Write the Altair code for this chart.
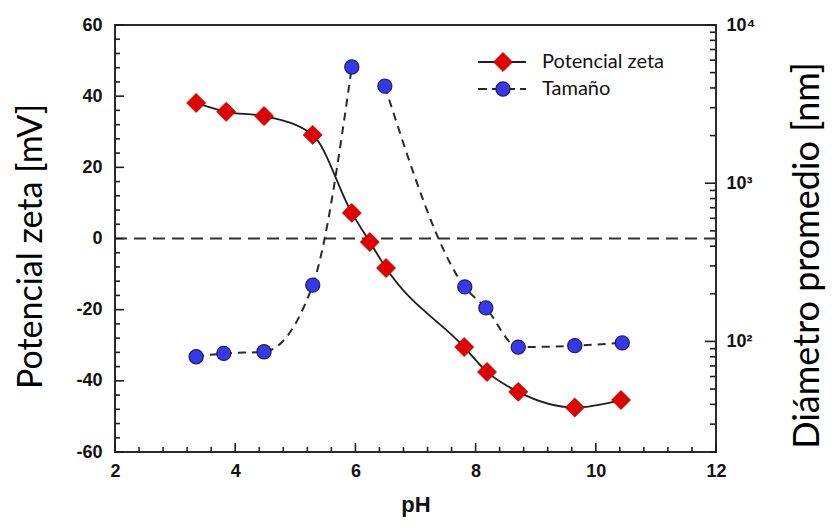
import altair as alt
import pandas as pd

# ---------------- data ----------------
ph_zeta = [3.35, 3.85, 4.48, 5.29, 5.94, 6.24, 6.51, 7.81, 8.19, 8.71, 9.65, 10.42]
zeta_mv = [38.1, 35.6, 34.4, 29.1, 7.2, -1.0, -8.3, -30.5, -37.5, -43.1, -47.5, -45.4]

ph_size = [3.35, 3.81, 4.48, 5.29, 5.94, 6.49, 7.82, 8.17, 8.71, 9.65, 10.44]
size_nm = [80, 84, 86, 227, 5430, 4110, 221, 163, 92, 94, 98]
size_branch = ["a", "a", "a", "a", "a", "b", "b", "b", "b", "b", "b"]

legend_labels = ["Potencial zeta", "Tamaño"]

x_major = [2, 4, 6, 8, 10, 12]
x_minor = [2.4, 2.8, 3.2, 3.6, 4.4, 4.8, 5.2, 5.6, 6.4, 6.8, 7.2, 7.6,
           8.4, 8.8, 9.2, 9.6, 10.4, 10.8, 11.2, 11.6]
y_left_major = [-60, -40, -20, 0, 20, 40, 60]
y_left_minor = [v for v in range(-56, 60, 4) if v % 20 != 0]
y_right_major = [100, 1000, 10000]
y_right_minor = [20, 30, 40, 50, 60, 70, 80, 90,
                 200, 300, 400, 500, 600, 700, 800, 900,
                 2000, 3000, 4000, 5000, 6000, 7000, 8000, 9000]

W, H = 601, 427
INK = "#1e1e1e"

xs = alt.Scale(domain=[2, 12], nice=False, zero=False)
ls = alt.Scale(domain=[-60, 60], nice=False, zero=False)
rs = alt.Scale(type="log", domain=[20, 10000], nice=False)

lab = dict(labelFont="Liberation Sans", labelFontWeight="bold", labelFontSize=18,
           labelColor="#111", ticks=False, domain=False, grid=False, labelFlush=False)

x_axis = alt.Axis(values=x_major, labelExpr="'' + datum.value", title="pH", labelPadding=10,
                  titleFont="Liberation Sans", titleFontWeight="bold", titleFontSize=22,
                  titleColor="#111", titlePadding=14, **lab)
left_axis = alt.Axis(values=y_left_major, labelExpr="'' + datum.value",
                     title="Potencial zeta [mV]", titleY=221,
                     labelPadding=13, titleFont="Lato", titleFontWeight="normal",
                     titleFontSize=34, titleColor="#000", titlePadding=27, **lab)
right_axis = alt.Axis(orient="right", values=y_right_major,
                      labelExpr="datum.value == 10000 ? '10⁴' : datum.value == 1000 ? '10³' : '10²'",
                      title="Diámetro promedio [nm]", labelPadding=10, titleAngle=270,
                      titleY=230, titleFont="Lato", titleFontWeight="normal", titleFontSize=36,
                      titleColor="#000", titlePadding=72, **lab)


def X(field="pH"):
    return alt.X(f"{field}:Q", scale=xs, axis=x_axis)


zeta_df = pd.DataFrame({"pH": ph_zeta, "zeta": zeta_mv})
size_df = pd.DataFrame({"pH": ph_size, "size": size_nm, "branch": size_branch})

zero_line = alt.Chart(pd.DataFrame({"z": [0]})).mark_rule(
    color="#333", strokeWidth=1.8, strokeDash=[12, 7]
).encode(y=alt.Y("z:Q", scale=ls, axis=None))


# inner ticks
def hticks(vals, scale, x0, x1):
    return alt.Chart(pd.DataFrame({"v": vals})).mark_rule(color=INK, strokeWidth=1.6).encode(
        y=alt.Y("v:Q", scale=scale, axis=None), x=alt.value(x0), x2=alt.value(x1))


def vticks(vals, length):
    return alt.Chart(pd.DataFrame({"v": vals})).mark_rule(color=INK, strokeWidth=1.6).encode(
        x=X("v"), y=alt.value(H), y2=alt.value(H - length))


tick_layers = [
    hticks(y_left_major, ls, 0, 9),
    hticks(y_left_minor, ls, 0, 5),
    hticks(y_right_major, rs, W - 11, W),
    hticks(y_right_minor, rs, W - 6, W),
    vticks(x_major, 9),
    vticks(x_minor, 5),
]

zeta_line = alt.Chart(zeta_df).mark_line(color=INK, strokeWidth=1.8, interpolate="monotone").encode(
    x=X(), y=alt.Y("zeta:Q", scale=ls, axis=left_axis))

size_line = alt.Chart(size_df).mark_line(color="#2a2a2a", strokeWidth=2, strokeDash=[8, 6],
                                          interpolate="monotone").encode(
    x=X(), y=alt.Y("size:Q", scale=rs, axis=None), detail="branch:N")

size_pts = alt.Chart(size_df).mark_point(shape="circle", filled=True, fill="#3838e8",
                                          stroke="#1a1a6e", strokeWidth=1.2, size=200,
                                          opacity=1).encode(
    x=X(), y=alt.Y("size:Q", scale=rs, axis=right_axis))

zeta_pts = alt.Chart(zeta_df).mark_point(shape="diamond", filled=True, fill="#e00000",
                                          stroke="#b00000", strokeWidth=0.8, size=360,
                                          opacity=1).encode(
    x=X(), y=alt.Y("zeta:Q", scale=ls, axis=None))

# legend (top right, inside the frame)
leg0 = pd.DataFrame({"label": [legend_labels[0]]})
leg1 = pd.DataFrame({"label": [legend_labels[1]]})
LX0, LX1, LM, LT, LY0, LY1 = 363, 411, 388, 427, 37, 64
legend_layers = [
    alt.Chart(leg0).mark_rule(color=INK, strokeWidth=1.8).encode(
        x=alt.value(LX0), x2=alt.value(LX1), y=alt.value(LY0)),
    alt.Chart(leg0).mark_point(shape="diamond", filled=True, fill="#e00000", stroke="#b00000",
                               strokeWidth=0.8, size=360, opacity=1).encode(
        x=alt.value(LM), y=alt.value(LY0)),
    alt.Chart(leg0).mark_text(align="left", baseline="middle", font="Lato", fontSize=20,
                              color="#111").encode(
        x=alt.value(LT), y=alt.value(LY0), text="label:N"),
    alt.Chart(leg1).mark_rule(color="#2a2a2a", strokeWidth=2, strokeDash=[9, 5]).encode(
        x=alt.value(LX0), x2=alt.value(LX1), y=alt.value(LY1)),
    alt.Chart(leg1).mark_point(shape="circle", filled=True, fill="#3838e8", stroke="#1a1a6e",
                               strokeWidth=1.2, size=200, opacity=1).encode(
        x=alt.value(LM), y=alt.value(LY1)),
    alt.Chart(leg1).mark_text(align="left", baseline="middle", font="Lato", fontSize=20,
                              color="#111").encode(
        x=alt.value(LT), y=alt.value(LY1), text="label:N"),
]

chart = alt.layer(
    zero_line, *tick_layers, size_line, zeta_line, size_pts, zeta_pts, *legend_layers
).resolve_scale(y="independent").properties(
    width=W, height=H,
    padding={"left": 107, "top": 17, "right": 114, "bottom": 67},
    autosize=alt.AutoSizeParams(type="none"),
    background="white",
).configure_view(stroke="#2b2b2b", strokeWidth=2)

chart.save("out.html", embed_options={"renderer": "svg", "actions": False})
